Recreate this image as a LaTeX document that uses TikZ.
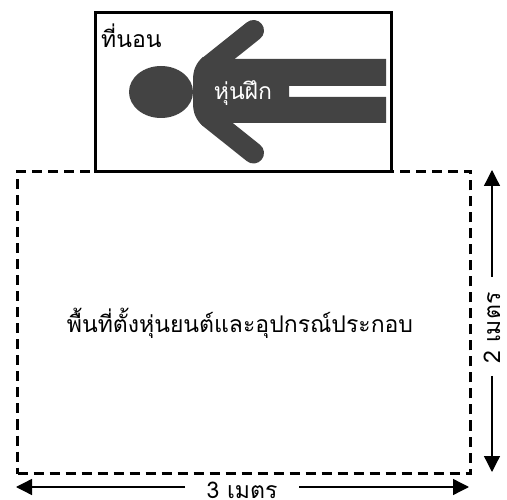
\documentclass[tikz,border=0pt]{standalone}
\usepackage{fontspec}
\newfontfamily\thaifont[Script=Thai]{Loma}
\usetikzlibrary{arrows.meta}
\definecolor{dummy}{HTML}{434343}
\tikzset{
  px/.style={x=1pt,y=-1pt},
  thlabel/.style={font=\thaifont\fontsize{23}{27}\selectfont,inner sep=0pt,text=black},
  dimarrow/.style={line width=1.3pt,-{Triangle[length=16pt,width=16pt]}},
  bedbox/.style={draw=black,line width=3pt,fill=white},
  areabox/.style={draw=black,line width=3pt,dash pattern=on 10pt off 6pt},
  figure/.style={fill=dummy,draw=none},
  limb/.style={draw=dummy,line width=21pt,line cap=round}
}
\begin{document}
\begin{tikzpicture}[px]
\useasboundingbox (0,0) rectangle (507,500);
\node[minimum width=453pt,minimum height=302pt,inner sep=0pt,areabox,anchor=north west] (area) at (16,170) {};
\node[bedbox,minimum width=296pt,minimum height=159pt,inner sep=0pt,anchor=north west] (bed) at (94,11) {};
\fill[figure] (161,92) ellipse [x radius=32,y radius=26];
\draw[limb] (253.5,30.5) -- (209,66);
\draw[limb] (253.5,153) -- (209,117.5);
\fill[figure] (386,59) -- (225,59) -- (203,57) .. controls (196,63) and (193,70) .. (193,80)
  -- (193,103) .. controls (193,113) and (196,120) .. (203,126)
  -- (225,123) -- (386,123) -- (386,97) -- (289,97) -- (289,86) -- (386,86) -- cycle;
\node[thlabel,anchor=base west] (bedlabel) at (101,48) {ที่นอน};
\node[thlabel,text=white,anchor=base] (dummylabel) at (243,100) {หุ่นฝึก};
\node[thlabel,anchor=base] (arealabel) at (240,333) {พื้นที่ตั้งหุ่นยนต์และอุปกรณ์ประกอบ};
\node[thlabel,anchor=base] (wlabel) at (242,498) {3 เมตร};
\node[thlabel,anchor=base,rotate=90] (hlabel) at (500,328) {2 เมตร};
\coordinate (wl0) at (185,487); \coordinate (wl1) at (16,487);
\coordinate (wr0) at (299,487); \coordinate (wr1) at (469,487);
\coordinate (ht0) at (492,277); \coordinate (ht1) at (492,170);
\coordinate (hb0) at (492,376); \coordinate (hb1) at (492,472);
\draw[dimarrow] (wl0) -- (wl1);
\draw[dimarrow] (wr0) -- (wr1);
\draw[dimarrow] (ht0) -- (ht1);
\draw[dimarrow] (hb0) -- (hb1);
\end{tikzpicture}
\end{document}
